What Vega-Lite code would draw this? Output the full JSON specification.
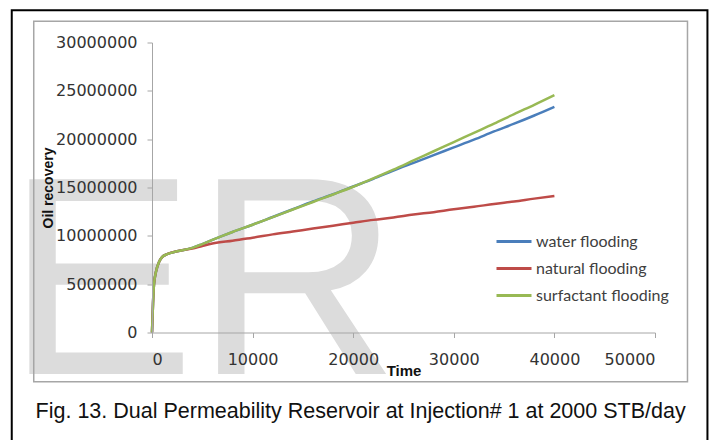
{
  "$schema": "https://vega.github.io/schema/vega-lite/v6.json",
  "width": 503,
  "height": 290,
  "autosize": {"type": "none"},
  "padding": {"left": 152, "top": 42.5, "right": 57, "bottom": 107.5},
  "background": "white",
  "config": {"view": {"stroke": null}},
  "datasets": {
    "series": [
      {"series": "water flooding", "time": 0, "recovery": 0},
      {"series": "water flooding", "time": 100, "recovery": 3000000},
      {"series": "water flooding", "time": 200, "recovery": 5000000},
      {"series": "water flooding", "time": 400, "recovery": 6300000},
      {"series": "water flooding", "time": 700, "recovery": 7300000},
      {"series": "water flooding", "time": 1000, "recovery": 7800000},
      {"series": "water flooding", "time": 1500, "recovery": 8100000},
      {"series": "water flooding", "time": 2500, "recovery": 8400000},
      {"series": "water flooding", "time": 4000, "recovery": 8750000},
      {"series": "water flooding", "time": 5000, "recovery": 9150000},
      {"series": "water flooding", "time": 6000, "recovery": 9580000},
      {"series": "water flooding", "time": 7000, "recovery": 10000000},
      {"series": "water flooding", "time": 8000, "recovery": 10400000},
      {"series": "water flooding", "time": 10000, "recovery": 11150000},
      {"series": "water flooding", "time": 12000, "recovery": 11950000},
      {"series": "water flooding", "time": 14000, "recovery": 12750000},
      {"series": "water flooding", "time": 16000, "recovery": 13550000},
      {"series": "water flooding", "time": 18000, "recovery": 14300000},
      {"series": "water flooding", "time": 20000, "recovery": 15100000},
      {"series": "water flooding", "time": 22000, "recovery": 15900000},
      {"series": "water flooding", "time": 24000, "recovery": 16750000},
      {"series": "water flooding", "time": 26000, "recovery": 17550000},
      {"series": "water flooding", "time": 28000, "recovery": 18350000},
      {"series": "water flooding", "time": 30000, "recovery": 19150000},
      {"series": "water flooding", "time": 32000, "recovery": 19950000},
      {"series": "water flooding", "time": 34000, "recovery": 20800000},
      {"series": "water flooding", "time": 36000, "recovery": 21600000},
      {"series": "water flooding", "time": 38000, "recovery": 22450000},
      {"series": "water flooding", "time": 40000, "recovery": 23350000},
      {"series": "natural flooding", "time": 0, "recovery": 0},
      {"series": "natural flooding", "time": 100, "recovery": 3000000},
      {"series": "natural flooding", "time": 200, "recovery": 5000000},
      {"series": "natural flooding", "time": 400, "recovery": 6300000},
      {"series": "natural flooding", "time": 700, "recovery": 7300000},
      {"series": "natural flooding", "time": 1000, "recovery": 7800000},
      {"series": "natural flooding", "time": 1500, "recovery": 8100000},
      {"series": "natural flooding", "time": 2500, "recovery": 8400000},
      {"series": "natural flooding", "time": 4000, "recovery": 8680000},
      {"series": "natural flooding", "time": 5000, "recovery": 8950000},
      {"series": "natural flooding", "time": 6000, "recovery": 9200000},
      {"series": "natural flooding", "time": 8000, "recovery": 9500000},
      {"series": "natural flooding", "time": 10000, "recovery": 9800000},
      {"series": "natural flooding", "time": 12000, "recovery": 10150000},
      {"series": "natural flooding", "time": 14000, "recovery": 10450000},
      {"series": "natural flooding", "time": 16000, "recovery": 10750000},
      {"series": "natural flooding", "time": 18000, "recovery": 11050000},
      {"series": "natural flooding", "time": 20000, "recovery": 11350000},
      {"series": "natural flooding", "time": 22000, "recovery": 11650000},
      {"series": "natural flooding", "time": 24000, "recovery": 11900000},
      {"series": "natural flooding", "time": 26000, "recovery": 12200000},
      {"series": "natural flooding", "time": 28000, "recovery": 12450000},
      {"series": "natural flooding", "time": 30000, "recovery": 12750000},
      {"series": "natural flooding", "time": 32000, "recovery": 13000000},
      {"series": "natural flooding", "time": 34000, "recovery": 13300000},
      {"series": "natural flooding", "time": 36000, "recovery": 13550000},
      {"series": "natural flooding", "time": 38000, "recovery": 13850000},
      {"series": "natural flooding", "time": 40000, "recovery": 14120000},
      {"series": "surfactant flooding", "time": 0, "recovery": 0},
      {"series": "surfactant flooding", "time": 100, "recovery": 3000000},
      {"series": "surfactant flooding", "time": 200, "recovery": 5000000},
      {"series": "surfactant flooding", "time": 400, "recovery": 6300000},
      {"series": "surfactant flooding", "time": 700, "recovery": 7300000},
      {"series": "surfactant flooding", "time": 1000, "recovery": 7800000},
      {"series": "surfactant flooding", "time": 1500, "recovery": 8100000},
      {"series": "surfactant flooding", "time": 2500, "recovery": 8400000},
      {"series": "surfactant flooding", "time": 4000, "recovery": 8750000},
      {"series": "surfactant flooding", "time": 5000, "recovery": 9150000},
      {"series": "surfactant flooding", "time": 6000, "recovery": 9580000},
      {"series": "surfactant flooding", "time": 7000, "recovery": 10000000},
      {"series": "surfactant flooding", "time": 8000, "recovery": 10400000},
      {"series": "surfactant flooding", "time": 10000, "recovery": 11150000},
      {"series": "surfactant flooding", "time": 12000, "recovery": 11930000},
      {"series": "surfactant flooding", "time": 14000, "recovery": 12720000},
      {"series": "surfactant flooding", "time": 16000, "recovery": 13500000},
      {"series": "surfactant flooding", "time": 18000, "recovery": 14280000},
      {"series": "surfactant flooding", "time": 20000, "recovery": 15080000},
      {"series": "surfactant flooding", "time": 22000, "recovery": 15950000},
      {"series": "surfactant flooding", "time": 24000, "recovery": 16850000},
      {"series": "surfactant flooding", "time": 26000, "recovery": 17800000},
      {"series": "surfactant flooding", "time": 28000, "recovery": 18750000},
      {"series": "surfactant flooding", "time": 30000, "recovery": 19700000},
      {"series": "surfactant flooding", "time": 32000, "recovery": 20650000},
      {"series": "surfactant flooding", "time": 34000, "recovery": 21600000},
      {"series": "surfactant flooding", "time": 36000, "recovery": 22600000},
      {"series": "surfactant flooding", "time": 38000, "recovery": 23550000},
      {"series": "surfactant flooding", "time": 40000, "recovery": 24550000}
    ],
    "watermark": [{"label": "ER"}],
    "caption": [{"label": "Fig. 13. Dual Permeability Reservoir at Injection# 1 at 2000 STB/day"}]
  },
  "layer": [
    {
      "data": {"name": "watermark"},
      "mark": {"type": "text", "font": "Liberation Sans", "fontSize": 283, "color": "#dcdcdc", "align": "left", "baseline": "alphabetic"},
      "encoding": {
        "x": {"datum": -14500, "type": "quantitative", "scale": {"domain": [0, 50000]}},
        "y": {"datum": -4300000, "type": "quantitative", "scale": {"domain": [0, 30000000]}},
        "text": {"field": "label"}
      }
    },
    {
      "data": {"name": "watermark"},
      "mark": {"type": "rect", "fill": null, "stroke": "#a6a6a6", "strokeWidth": 1.5},
      "encoding": {
        "x": {"datum": -11755, "type": "quantitative"},
        "x2": {"datum": 53229},
        "y": {"datum": 32200000, "type": "quantitative"},
        "y2": {"datum": -5090000}
      }
    },
    {
      "data": {"name": "watermark"},
      "mark": {"type": "rect", "fill": null, "stroke": "#000000", "strokeWidth": 2},
      "encoding": {
        "x": {"datum": -13941, "type": "quantitative"},
        "x2": {"datum": 55213},
        "y": {"datum": 33340000, "type": "quantitative"},
        "y2": {"datum": -11600000}
      }
    },
    {
      "data": {"name": "caption"},
      "mark": {"type": "text", "font": "Liberation Sans Narrow, Liberation Sans", "fontSize": 21.5, "color": "#111111", "align": "center", "baseline": "middle"},
      "encoding": {
        "x": {"datum": 20737, "type": "quantitative"},
        "y": {"datum": -8190000, "type": "quantitative"},
        "text": {"field": "label"}
      }
    },
    {
      "data": {"name": "series"},
      "mark": {"type": "line", "strokeWidth": 2.5, "interpolate": "monotone"},
      "encoding": {
        "x": {
          "field": "time", "type": "quantitative",
          "scale": {"domain": [0, 50000], "nice": false, "zero": false},
          "axis": {
            "title": "Time", "values": [0, 10000, 20000, 30000, 40000, 50000], "format": "d",
            "grid": false, "domainColor": "#a6a6a6", "tickColor": "#a6a6a6", "tickSize": 5,
            "labelFont": "DejaVu Sans", "labelFontSize": 16, "labelColor": "#333333", "labelPadding": 14,
            "titleFont": "Liberation Sans", "titleFontSize": 15, "titleFontWeight": "bold", "titleColor": "#111111",
            "titlePadding": -4, "zindex": 1
          }
        },
        "y": {
          "field": "recovery", "type": "quantitative",
          "scale": {"domain": [0, 30000000], "nice": false},
          "axis": {
            "title": "Oil recovery", "values": [0, 5000000, 10000000, 15000000, 20000000, 25000000, 30000000], "format": "d",
            "grid": false, "domainColor": "#a6a6a6", "tickColor": "#a6a6a6", "tickSize": 5,
            "labelFont": "DejaVu Sans", "labelFontSize": 16, "labelColor": "#333333", "labelPadding": 10,
            "titleFont": "Liberation Sans", "titleFontSize": 14, "titleFontWeight": "bold", "titleColor": "#111111",
            "titlePadding": 0, "zindex": 1
          }
        },
        "color": {
          "field": "series", "type": "nominal",
          "scale": {"domain": ["water flooding", "natural flooding", "surfactant flooding"], "range": ["#4a7ebb", "#be4b48", "#98b954"]},
          "legend": {
            "title": null, "orient": "none", "legendX": 343, "legendY": 180,
            "symbolType": "stroke", "symbolSize": 1225, "symbolStrokeWidth": 3,
            "labelFont": "Lato", "labelFontSize": 16, "labelColor": "#404040", "labelOffset": 3,
            "rowPadding": -7.5
          }
        }
      }
    }
  ]
}
